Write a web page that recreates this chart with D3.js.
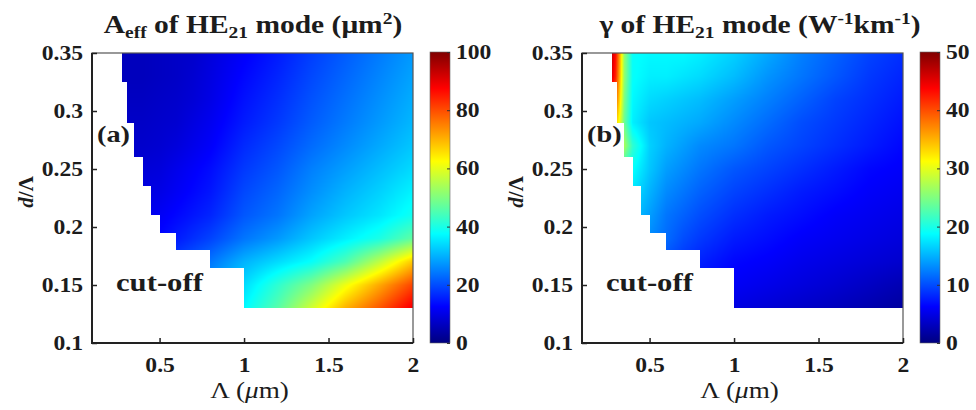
<!DOCTYPE html>
<html lang="en">
<head>
<meta charset="UTF-8">
<title>HE21 mode maps</title>
<script src="https://cdn.jsdelivr.net/npm/d3@7"></script>
<style>
  body { margin: 0; background: #fff; }
  svg { display: block; }
  svg text { font-family: "Liberation Serif", "Times New Roman", serif; font-weight: bold; fill: #1c1c1c; }
</style>
</head>
<body>
<svg id="fig" width="976" height="410"></svg>
<script>
// grid: columns = pitch Λ (µm), rows = d/Λ
const lambdas = [0.28, 0.30, 0.32, 0.35, 0.40, 0.50, 0.60, 0.70, 0.80, 1.00, 1.20, 1.40, 1.60, 1.80, 2.00];
const dRatios = [0.13, 0.15, 0.17, 0.19, 0.21, 0.23, 0.25, 0.27, 0.29, 0.31, 0.33, 0.35];

// Aeff (µm^2), one row per d/Λ value
const aeff = [
  [17, 17, 17, 17, 18, 21, 25, 28, 31, 37, 46, 58, 70, 79, 89],
  [15, 15, 15, 15, 16, 19, 22, 25, 28, 34, 42, 50, 61, 71, 81],
  [13, 13, 13, 13, 14, 16, 19, 21.5, 24, 30, 34, 38, 45, 56, 68],
  [11, 11, 11, 11, 11.5, 13, 15, 17, 19, 24, 27.5, 32, 36, 40, 47],
  [10, 10, 10, 10, 10.5, 11.5, 13, 14.5, 16, 21, 24, 28.5, 32, 35, 39],
  [9, 9, 9, 9, 9.5, 10, 11.5, 13, 14.5, 19.5, 22.5, 26.5, 30, 33, 36.5],
  [8, 8, 8, 8, 8.5, 9, 10.5, 12, 13.5, 18, 21, 25, 28, 31, 34],
  [7.5, 7.5, 7.5, 7.5, 7.5, 8, 9, 10.5, 12, 16.5, 19.5, 23, 26, 29, 32],
  [7, 7, 7, 7, 7, 7.5, 8, 9.5, 11, 15, 18, 21.5, 24.5, 27.5, 30.5],
  [6.5, 6.5, 6.5, 6.5, 6.5, 7, 7.5, 8.5, 10, 14, 17, 20.5, 23.5, 26.5, 29.5],
  [6, 6, 6, 6, 6, 6.5, 7, 8, 9.5, 13, 16, 19.5, 22.5, 25.5, 28.5],
  [6, 6, 6, 6, 6, 6.5, 7, 7.5, 9, 12, 15, 18.5, 21.5, 24.5, 27.5]
];

// gamma (W^-1 km^-1), one row per d/Λ value
const gamma = [
  [10, 10, 10, 10, 9.5, 9, 8, 7, 6, 4.8, 4.2, 3.6, 3, 2.3, 1.5],
  [11, 11, 11, 11, 10.5, 10, 9, 8, 7, 5.8, 5.2, 4.6, 4, 3.3, 2.5],
  [13, 13, 13, 12.5, 12, 11, 10, 8.8, 7.8, 6.5, 6, 5.3, 4.8, 4.3, 3.8],
  [15, 15, 15, 14.5, 14, 13, 11.5, 10, 9, 7.5, 6.8, 6, 5.5, 5, 4.5],
  [17, 17, 17, 16.5, 16, 14, 12, 11, 10, 8.5, 7.5, 6.8, 6, 5.5, 5],
  [19, 19, 19, 18.5, 17.5, 15, 13, 12, 11, 9.5, 8.5, 7.5, 6.8, 6, 5.5],
  [22, 22, 21, 20.5, 19, 16, 14, 13, 12, 10.5, 9.5, 8.5, 7.5, 6.5, 6],
  [30, 29, 28, 27, 21, 16.5, 15, 14, 13, 12, 10.5, 9.5, 8.5, 7.5, 6.5],
  [36, 34, 31, 24, 18, 16, 15.5, 15, 14.5, 13, 11.5, 10, 9, 8, 7],
  [40, 39, 34, 25, 18.5, 17, 16.5, 16, 15.5, 14, 12.5, 11, 9.5, 8.5, 7.5],
  [45, 42, 36, 26, 19, 18, 18, 17.5, 17, 15.5, 13.5, 12, 10.5, 9, 8],
  [46, 43, 37, 26, 19, 18.5, 18.5, 18.5, 18, 16.5, 14.5, 12.5, 11, 9.5, 8.5]
];

// cut-off staircase: from Λ = cutLambda[i] onward the mode exists for d/Λ >= cutD[i]
const cutLambda = [0.28, 0.31, 0.35, 0.40, 0.45, 0.50, 0.60, 0.80, 1.00];
const cutD = [0.325, 0.29, 0.26, 0.235, 0.21, 0.195, 0.18, 0.165, 0.13];

const xTicks = [0.5, 1, 1.5, 2];
const yTicks = [0.1, 0.15, 0.2, 0.25, 0.3, 0.35];
const aeffTicks = [0, 20, 40, 60, 80, 100];
const gammaTicks = [0, 10, 20, 30, 40, 50];

const SX = 1.18;           // the source figure is a bit wide, stretch text to match
const plotTop = 53, plotBottom = 343;

const svg = d3.select("#fig");

function jet(t) {
  t = Math.max(0, Math.min(1, t));
  const c = v => Math.round(255 * Math.max(0, Math.min(1, v)));
  return [c(1.5 - Math.abs(4 * t - 3)), c(1.5 - Math.abs(4 * t - 2)), c(1.5 - Math.abs(4 * t - 1))];
}

function stretch(sel) {
  sel.each(function() {
    const t = d3.select(this);
    const x = +t.attr("x") || 0, y = +t.attr("y") || 0;
    t.attr("x", 0).attr("y", 0).attr("transform", `translate(${x},${y}) scale(${SX},1)`);
  });
}

function richText(g, x, y, parts, size) {
  const t = g.append("text").attr("x", x).attr("y", y).attr("text-anchor", "middle").attr("font-size", size);
  let shift = 0;
  parts.forEach(([s, kind]) => {
    const target = kind === "sub" ? 5 : kind === "sup" ? -9 : 0;
    t.append("tspan")
      .attr("dy", target - shift)
      .attr("font-size", kind ? size * 0.66 : size)
      .text(s);
    shift = target;
  });
  stretch(t);
  return t;
}

function sample(grid, L, d) {
  const clamp = (v, a, b) => Math.max(a, Math.min(b, v));
  const i = clamp(d3.bisectRight(lambdas, L) - 1, 0, lambdas.length - 2);
  const j = clamp(d3.bisectRight(dRatios, d) - 1, 0, dRatios.length - 2);
  const tx = clamp((L - lambdas[i]) / (lambdas[i + 1] - lambdas[i]), 0, 1);
  const ty = clamp((d - dRatios[j]) / (dRatios[j + 1] - dRatios[j]), 0, 1);
  const a = grid[j][i] * (1 - tx) + grid[j][i + 1] * tx;
  const b = grid[j + 1][i] * (1 - tx) + grid[j + 1][i + 1] * tx;
  return a * (1 - ty) + b * ty;
}

function guided(L, d) {
  if (L < cutLambda[0]) return false;
  const k = d3.bisectRight(cutLambda, L) - 1;
  return d >= cutD[k];
}

const panels = [
  { left: 92, right: 413, values: aeff, ticks: aeffTicks, tag: "(a)", titleX: 253,
    title: [["A"], ["eff", "sub"], [" of HE"], ["21", "sub"], [" mode (\u03bcm"], ["2", "sup"], [")"]] },
  { left: 582, right: 903, values: gamma, ticks: gammaTicks, tag: "(b)", titleX: 760,
    title: [["\u03b3 of HE"], ["21", "sub"], [" mode (W"], ["-1", "sup"], ["km"], ["-1", "sup"], [")"]] }
];

const defs = svg.append("defs");

panels.forEach((p, pi) => {
  const x = d3.scaleLinear().domain([0.1, 2]).range([p.left, p.right]);
  const y = d3.scaleLinear().domain([0.1, 0.35]).range([plotBottom, plotTop]);
  const vmax = d3.max(p.ticks);
  const cnorm = d3.scaleLinear().domain([0, vmax]).range([0, 1]).clamp(true);
  const g = svg.append("g");

  // field, painted pixel by pixel (interpolated shading)
  const w = p.right - p.left, h = plotBottom - plotTop;
  const canvas = document.createElement("canvas");
  canvas.width = w; canvas.height = h;
  const ctx = canvas.getContext("2d");
  const img = ctx.createImageData(w, h);
  for (let py = 0; py < h; py++) {
    const d = y.invert(plotTop + py + 0.5);
    for (let px = 0; px < w; px++) {
      const L = x.invert(p.left + px + 0.5);
      const o = (py * w + px) * 4;
      if (!guided(L, d)) { img.data[o] = img.data[o + 1] = img.data[o + 2] = 255; img.data[o + 3] = 255; continue; }
      const [r, gg, b] = jet(cnorm(sample(p.values, L, d)));
      img.data[o] = r; img.data[o + 1] = gg; img.data[o + 2] = b; img.data[o + 3] = 255;
    }
  }
  ctx.putImageData(img, 0, 0);
  g.append("image")
    .attr("x", p.left).attr("y", plotTop)
    .attr("width", w).attr("height", h)
    .attr("href", canvas.toDataURL());

  // frame
  g.append("rect")
    .attr("x", p.left).attr("y", plotTop).attr("width", w).attr("height", h)
    .attr("fill", "none").attr("stroke", "#555").attr("stroke-width", 1.2);
  g.append("path")
    .attr("d", `M${p.left},${plotTop}V${plotBottom}H${p.right}`)
    .attr("fill", "none").attr("stroke", "#222").attr("stroke-width", 2);

  // axes
  const ax = g.append("g").attr("transform", `translate(0,${plotBottom})`)
    .call(d3.axisBottom(x).tickValues(xTicks).tickFormat(d => String(d)).tickSize(-5).tickSizeOuter(0).tickPadding(15));
  const ay = g.append("g").attr("transform", `translate(${p.left},0)`)
    .call(d3.axisLeft(y).tickValues(yTicks).tickFormat(d => String(d)).tickSize(-5).tickSizeOuter(0).tickPadding(9));
  [ax, ay].forEach(a => {
    a.attr("font-size", 20).attr("font-family", null);
    a.select(".domain").remove();
    a.selectAll(".tick line").attr("stroke", "#222").attr("stroke-width", 1.5);
    a.selectAll(".tick text").attr("fill", "#1c1c1c");
    stretch(a.selectAll(".tick text"));
  });

  // axis titles
  const xl = g.append("text").attr("x", (p.left + p.right) / 2 - 3).attr("y", 398)
    .attr("text-anchor", "middle").attr("font-size", 23).style("font-weight", "normal");
  xl.append("tspan").text("\u039b (");
  xl.append("tspan").attr("font-style", "italic").text("\u03bc");
  xl.append("tspan").text("m)");
  stretch(xl);

  const yl = g.append("text")
    .attr("transform", `translate(${p.left - 59},192) rotate(-90)`)
    .attr("text-anchor", "middle").attr("font-size", 21);
  yl.append("tspan").attr("font-style", "italic").text("d");
  yl.append("tspan").text("/\u039b");

  // title and annotations
  richText(g, p.titleX, 33, p.title, 25);
  stretch(g.append("text").attr("x", p.left + 5).attr("y", 142).attr("font-size", 24).text(p.tag));
  stretch(g.append("text").attr("x", p.left + 24).attr("y", 291).attr("font-size", 26).text("cut-off"));

  // colour bar
  const cbX = p.right + 17, cbW = 20;
  const grad = defs.append("linearGradient").attr("id", "jet" + pi)
    .attr("x1", 0).attr("y1", 1).attr("x2", 0).attr("y2", 0);
  d3.range(0, 1.0001, 1 / 64).forEach(t => {
    const [r, gg, b] = jet(t);
    grad.append("stop").attr("offset", t).attr("stop-color", `rgb(${r},${gg},${b})`);
  });
  const cy = d3.scaleLinear().domain([0, vmax]).range([plotBottom, plotTop - 1]);
  g.append("rect").attr("x", cbX).attr("y", cy(vmax)).attr("width", cbW).attr("height", cy(0) - cy(vmax))
    .attr("fill", `url(#jet${pi})`).attr("stroke", "#666").attr("stroke-width", 0.6);
  const cb = g.append("g").attr("transform", `translate(${cbX + cbW},0)`)
    .call(d3.axisRight(cy).tickValues(p.ticks).tickSize(-3).tickSizeOuter(0).tickPadding(6));
  cb.attr("font-size", 20).attr("font-family", null);
  cb.select(".domain").remove();
  cb.selectAll(".tick line").attr("stroke", "#333");
  cb.selectAll(".tick text").attr("fill", "#1c1c1c");
  stretch(cb.selectAll(".tick text"));
});
</script>
</body>
</html>
